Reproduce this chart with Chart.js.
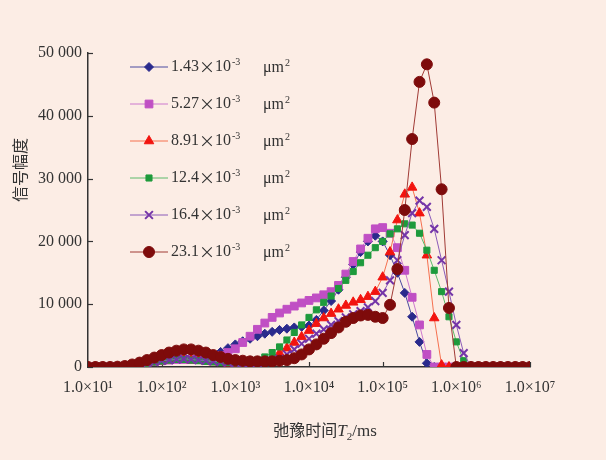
<!DOCTYPE html>
<html>
<head>
<meta charset="utf-8">
<script src="https://cdn.jsdelivr.net/npm/chart.js@4.4.0/dist/chart.umd.min.js"></script>
<style>
html, body { margin: 0; padding: 0; background: #FCEDE5; }
#wrap { width: 606px; height: 460px; }
</style>
</head>
<body>
<div id="wrap"><canvas id="myChart" width="606" height="460"></canvas></div>
<script>
// relaxation time T2 (ms), 10 points per decade
const t2 = [10, 12.59, 15.85, 19.95, 25.12, 31.62, 39.81, 50.12, 63.1, 79.43,
    100, 125.9, 158.5, 199.5, 251.2, 316.2, 398.1, 501.2, 631, 794.3,
    1000, 1259, 1585, 1995, 2512, 3162, 3981, 5012, 6310, 7943,
    10000, 12589, 15849, 19953, 25119, 31623, 39811, 50119, 63096, 79433,
    100000, 125893, 158489, 199526, 251189, 316228, 398107, 501187, 630957, 794328,
    1000000, 1258925, 1584893, 1995262, 2511886, 3162278, 3981072, 5011872, 6309573, 7943282,
    10000000];

const perm = ['1.43', '5.27', '8.91', '12.4', '16.4', '23.1'];

const s143 = [0, 0, 0, 0, 50, 150, 300, 500, 700, 900,
    1100, 1300, 1400, 1500, 1500, 1500, 1600, 1900, 2400, 3000,
    3600, 4100, 4500, 4900, 5300, 5600, 5900, 6100, 6300, 6400,
    6600, 7500, 9000, 10500, 12300, 14300, 16300, 18300, 20000, 20900,
    20000, 17800, 15000, 11800, 8000, 4000, 600, 0, 0, 0,
    0, 0, 0, 0, 0, 0, 0, 0, 0, 0, 0];

const s527 = [0, 0, 0, 0, 50, 150, 300, 500, 700, 900,
    1000, 1100, 1200, 1200, 1200, 1200, 1200, 1400, 1800, 2300,
    2900, 3900, 4900, 6000, 7000, 7900, 8600, 9200, 9700, 10200,
    10600, 11000, 11500, 12000, 13000, 14800, 16800, 18800, 20500, 22000,
    22200, 21300, 19000, 15400, 11100, 6700, 2000, 0, 0, 0,
    0, 0, 0, 0, 0, 0, 0, 0, 0, 0, 0];

const s891 = [0, 0, 0, 0, 0, 100, 250, 400, 600, 800,
    950, 1100, 1200, 1200, 1100, 1000, 900, 800, 700, 600,
    600, 600, 600, 700, 900, 1400, 2200, 3000, 3900, 4800,
    5800, 6900, 7800, 8500, 9200, 9800, 10300, 10700, 11200, 12000,
    14300, 18300, 23400, 27500, 28600, 24500, 17800, 7800, 300, 0,
    0, 0, 0, 0, 0, 0, 0, 0, 0, 0, 0];

const s124 = [0, 0, 0, 0, 0, 100, 250, 400, 600, 800,
    950, 1100, 1200, 1200, 1100, 1000, 900, 800, 700, 700,
    700, 700, 800, 1100, 1600, 2300, 3200, 4300, 5500, 6700,
    7900, 9100, 10300, 11300, 12500, 13800, 15200, 16600, 17800, 19000,
    20000, 21200, 22000, 22800, 22600, 21300, 18600, 15400, 12000, 8000,
    4000, 1000, 0, 0, 0, 0, 0, 0, 0, 0, 0];

const s164 = [0, 0, 0, 0, 0, 100, 250, 400, 600, 800,
    1000, 1100, 1200, 1300, 1200, 1100, 1000, 900, 800, 700,
    600, 500, 500, 600, 800, 1000, 1300, 2000, 2800, 3700,
    4500, 5300, 6000, 6700, 7300, 7900, 8400, 8900, 9500, 10500,
    11800, 13800, 17000, 21000, 24500, 26500, 25500, 22000, 17000, 12000,
    6700, 2200, 0, 0, 0, 0, 0, 0, 0, 0, 0];

const s231 = [0, 0, 0, 0, 50, 150, 400, 700, 1100, 1500,
    1900, 2300, 2600, 2800, 2800, 2600, 2300, 1900, 1600, 1300,
    1100, 1000, 900, 900, 900, 900, 1000, 1100, 1400, 2000,
    2800, 3600, 4500, 5400, 6300, 7200, 7800, 8200, 8300, 8000,
    7800, 9900, 15600, 25000, 36300, 45400, 48200, 42100, 28300, 9400,
    0, 0, 0, 0, 0, 0, 0, 0, 0, 0, 0];

const yTicks = [0, 10000, 20000, 30000, 40000, 50000];
const xTicks = [1e1, 1e2, 1e3, 1e4, 1e5, 1e6, 1e7];
const sup = ['⁰', '¹', '²', '³', '⁴', '⁵', '⁶', '⁷'];

const serif = '"Liberation Serif", "Times New Roman", serif';
const cjk = '"Noto Sans CJK SC", sans-serif';
const ink = '#333333';

const makeSet = (i, values, color, lineColor, style, radius, bw, order) => ({
    label: perm[i] + '×10⁻³ μm²',
    data: t2.map((t, k) => ({ x: t, y: values[k] })),
    borderColor: lineColor,
    borderWidth: 1,
    backgroundColor: color,
    pointStyle: style,
    pointRadius: radius,
    pointHoverRadius: radius,
    pointBackgroundColor: color,
    pointBorderColor: color,
    pointBorderWidth: bw,
    tension: 0,
    fill: false,
    order: order
});

const datasets = [
    makeSet(0, s143, '#2A2A8C', '#4A4AA0', 'rectRot', 4.5, 1, 5),
    makeSet(1, s527, '#C04FC4', '#CC78CE', 'rect', 5.5, 1, 4),
    makeSet(2, s891, '#F2140F', '#F5704F', 'triangle', 5.5, 1, 3),
    makeSet(3, s124, '#1E9A3C', '#5DBA6B', 'rect', 4.3, 1, 2),
    makeSet(4, s164, '#7435A8', '#8A5AB8', 'crossRot', 5.5, 2, 1),
    makeSet(5, s231, '#7E0B0B', '#A03A35', 'circle', 5.5, 1, 0)
];

const extras = {
    id: 'extras',
    beforeDatasetsDraw(chart) {
        const ctx = chart.ctx;
        const xs = chart.scales.x;
        const ys = chart.scales.y;
        const a = chart.chartArea;
        ctx.save();
        ctx.strokeStyle = ink;
        ctx.lineWidth = 1.2;
        xTicks.forEach(v => {
            const px = Math.round(xs.getPixelForValue(v)) + 0.5;
            ctx.beginPath();
            ctx.moveTo(px, a.bottom);
            ctx.lineTo(px, a.bottom - 5);
            ctx.stroke();
        });
        yTicks.forEach(v => {
            const py = Math.round(ys.getPixelForValue(v)) + 0.5;
            ctx.beginPath();
            ctx.moveTo(a.left, py);
            ctx.lineTo(a.left + 5, py);
            ctx.stroke();
        });
        ctx.restore();
    },
    afterDraw(chart) {
        const ctx = chart.ctx;
        ctx.save();
        // legend
        chart.data.datasets.forEach((ds, i) => {
            const y = 67 + i * 37;
            ctx.strokeStyle = ds.borderColor;
            ctx.lineWidth = 1;
            ctx.beginPath();
            ctx.moveTo(130, y);
            ctx.lineTo(168, y);
            ctx.stroke();
            ctx.fillStyle = ds.pointBackgroundColor;
            ctx.strokeStyle = ds.pointBorderColor;
            ctx.lineWidth = ds.pointBorderWidth;
            Chart.helpers.drawPoint(ctx, {
                pointStyle: ds.pointStyle,
                radius: ds.pointRadius,
                borderWidth: ds.pointBorderWidth,
                rotation: 0
            }, 149, y);
            ctx.fillStyle = ink;
            ctx.textBaseline = 'middle';
            ctx.textAlign = 'left';
            ctx.font = '16px ' + serif;
            ctx.fillText(perm[i], 171, y);
            let w = ctx.measureText(perm[i]).width;
            ctx.font = '16px ' + cjk;
            ctx.fillText('×', 171 + w, y);
            w += ctx.measureText('×').width;
            ctx.font = '16px ' + serif;
            ctx.fillText('10', 171 + w, y);
            w += ctx.measureText('10').width;
            ctx.font = '10px ' + serif;
            ctx.fillText('-3', 172 + w, y - 5);
            ctx.font = '16px ' + serif;
            ctx.fillText('μm', 263, y + 1);
            const u = ctx.measureText('μm').width;
            ctx.font = '10px ' + serif;
            ctx.fillText('2', 264 + u, y - 4);
        });

        // y title
        ctx.fillStyle = ink;
        ctx.save();
        ctx.translate(20, 170);
        ctx.rotate(-Math.PI / 2);
        ctx.font = '16px ' + cjk;
        ctx.textAlign = 'center';
        ctx.textBaseline = 'middle';
        ctx.fillText('信号幅度', 0, 0);
        ctx.restore();

        // x title: 弛豫时间T2/ms
        const parts = [
            { t: '弛豫时间', f: '16px ' + cjk, dy: 0 },
            { t: 'T', f: 'italic 17px ' + serif, dy: 0 },
            { t: '2', f: '11px ' + serif, dy: 4 },
            { t: '/ms', f: '17px ' + serif, dy: 0 }
        ];
        let total = 0;
        parts.forEach(p => { ctx.font = p.f; p.w = ctx.measureText(p.t).width; total += p.w; });
        let x = 325 - total / 2;
        ctx.textAlign = 'left';
        ctx.textBaseline = 'alphabetic';
        parts.forEach(p => {
            ctx.font = p.f;
            ctx.fillText(p.t, x, 436 + p.dy);
            x += p.w;
        });
        ctx.restore();
    }
};

var ctx = document.getElementById('myChart').getContext('2d');
var myChart = new Chart(ctx, {
    type: 'line',
    data: { datasets: datasets },
    plugins: [extras],
    options: {
        responsive: false,
        animation: false,
        devicePixelRatio: 1,
        layout: { padding: { top: 53, right: 76, bottom: 0, left: 0 } },
        plugins: {
            legend: { display: false },
            tooltip: { enabled: false }
        },
        scales: {
            x: {
                type: 'logarithmic',
                min: 10,
                max: 1e7,
                afterFit: s => { s.height = 93; },
                afterBuildTicks: s => { s.ticks = xTicks.map(v => ({ value: v, major: true })); },
                grid: { display: false, drawTicks: false },
                border: { display: true, color: ink, width: 1.5 },
                ticks: {
                    padding: 11,
                    autoSkip: false,
                    maxRotation: 0,
                    color: ink,
                    font: { family: serif, size: 16 },
                    callback: v => '1.0×10' + sup[Math.round(Math.log10(v))]
                }
            },
            y: {
                min: 0,
                max: 50000,
                afterFit: s => { s.width = 88; },
                afterBuildTicks: s => { s.ticks = yTicks.map(v => ({ value: v })); },
                grid: { display: false, drawTicks: false },
                border: { display: true, color: ink, width: 1.5 },
                ticks: {
                    padding: 6,
                    color: ink,
                    font: { family: serif, size: 16 },
                    callback: v => v === 0 ? '0' : (v / 1000) + ' 000'
                }
            }
        }
    }
});
</script>
</body>
</html>
